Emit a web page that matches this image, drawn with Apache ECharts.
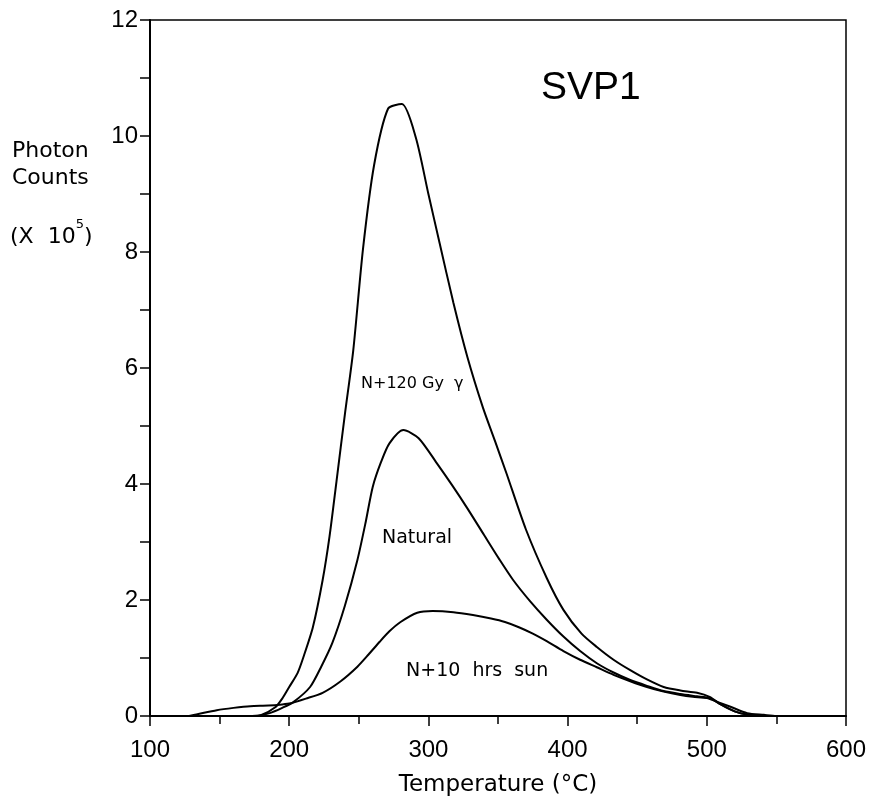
<!DOCTYPE html>
<html>
<head>
<meta charset="utf-8">
<script src="https://cdn.jsdelivr.net/npm/echarts@6/dist/echarts.min.js"></script>
<style>
  html, body { margin: 0; padding: 0; background: #fff; }
  #chart { width: 875px; height: 802px; }
</style>
</head>
<body>
<div id="chart"></div>
<script>
// Glow curves for sample SVP1 (photon counts x 10^5 vs temperature in °C)
const gammaTemp = [100,170,180,190,195,200,206,210,217,224,229,234,240,246,253,261,271,281,291,300,308,318,328,339,348,356,370,385,397,410,421,433,445,457,469,481,493,502,510,520,530,540,600];
const gammaCounts = [0,0,0.02,0.15,0.3,0.5,0.74,1.0,1.53,2.34,3.1,4.05,5.2,6.3,8.05,9.5,10.47,10.55,9.97,9.0,8.16,7.12,6.19,5.33,4.73,4.19,3.22,2.38,1.83,1.42,1.19,0.97,0.79,0.63,0.5,0.44,0.4,0.33,0.2,0.08,0.02,0,0];

const naturalTemp = [100,175,186,195,203,215,223,231,240,249,255,260,266,272,282,293,306,317,328,340,351,361,373,385,397,409,421,433,445,457,469,481,493,502,510,520,530,540,600];
const naturalCounts = [0,0,0.05,0.14,0.24,0.5,0.85,1.26,1.9,2.69,3.35,3.95,4.38,4.7,4.93,4.79,4.36,3.98,3.58,3.12,2.7,2.34,1.98,1.66,1.37,1.12,0.91,0.75,0.62,0.52,0.43,0.38,0.34,0.31,0.2,0.08,0.02,0,0];

const sunTemp = [100,128,134,148,160,172,185,195,201,212,224,237,249,257,265,272,280,292,303,318,332,345,355,365,375,385,397,409,421,433,445,457,469,481,490,500,508,517,529,541,550,600];
const sunCounts = [0,0,0.03,0.1,0.14,0.17,0.18,0.2,0.22,0.3,0.4,0.6,0.85,1.06,1.28,1.46,1.62,1.78,1.81,1.79,1.74,1.68,1.62,1.53,1.42,1.29,1.12,0.97,0.84,0.71,0.6,0.5,0.42,0.36,0.33,0.31,0.24,0.16,0.05,0.02,0,0];

const xTicks = { min: 100, max: 600, step: 100 };
const yTicks = { min: 0, max: 12, step: 2 };

const pairs = (xs, ys) => xs.map((x, i) => [x, ys[i]]);
const FONT = 'Liberation Sans';
const WIDE = 'DejaVu Sans';

const chart = echarts.init(document.getElementById('chart'), null, { renderer: 'canvas' });

const lineSeries = (name, xs, ys) => ({
  name: name,
  type: 'line',
  data: pairs(xs, ys),
  showSymbol: false,
  smooth: 0.25,
  lineStyle: { color: '#000', width: 2 },
  z: 3
});

chart.setOption({
  animation: false,
  backgroundColor: '#fff',
  grid: {
    left: 150, right: 29, top: 20, bottom: 86,
    show: true, borderColor: '#000', borderWidth: 1.5, backgroundColor: 'transparent'
  },
  xAxis: {
    type: 'value',
    min: xTicks.min, max: xTicks.max, interval: xTicks.step,
    axisLine: { show: true, onZero: false, lineStyle: { color: '#000', width: 2 } },
    axisTick: { show: true, inside: false, length: 10, lineStyle: { color: '#000', width: 1.5 } },
    minorTick: { show: true, splitNumber: 2, length: 8, lineStyle: { color: '#000', width: 1.5 } },
    splitLine: { show: false },
    axisLabel: { color: '#000', fontFamily: FONT, fontSize: 24, margin: 22 },
    name: 'Temperature (°C)',
    nameLocation: 'middle',
    nameGap: 58,
    nameTextStyle: { color: '#000', fontFamily: WIDE, fontSize: 23 }
  },
  yAxis: {
    type: 'value',
    min: yTicks.min, max: yTicks.max, interval: yTicks.step,
    axisLine: { show: true, lineStyle: { color: '#000', width: 2 } },
    axisTick: { show: true, inside: false, length: 10, lineStyle: { color: '#000', width: 1.5 } },
    minorTick: { show: true, splitNumber: 2, length: 10, lineStyle: { color: '#000', width: 1.5 } },
    splitLine: { show: false },
    axisLabel: { color: '#000', fontFamily: FONT, fontSize: 24, margin: 12 }
  },
  graphic: [
    { type: 'text', left: 12, top: 140, style: { text: 'Photon', font: '22px "' + WIDE + '"', fill: '#000' } },
    { type: 'text', left: 12, top: 167, style: { text: 'Counts', font: '22px "' + WIDE + '"', fill: '#000' } },
    {
      type: 'text', left: 10, top: 218,
      style: {
        text: '{a|(X  10}{s|5}{a|)}',
        rich: {
          a: { fontFamily: WIDE, fontSize: 22, lineHeight: 30, fill: '#000', verticalAlign: 'bottom' },
          s: { fontFamily: WIDE, fontSize: 13, lineHeight: 14, fill: '#000', verticalAlign: 'top' }
        }
      }
    },
    { type: 'text', left: 541, top: 69, style: { text: 'SVP1', font: '39px "' + FONT + '"', fill: '#000' } },
    { type: 'text', left: 361, top: 376, style: { text: 'N+120 Gy  \u03b3', font: '16px "' + WIDE + '"', fill: '#000' } },
    { type: 'text', left: 382, top: 529, style: { text: 'Natural', font: '19px "' + WIDE + '"', fill: '#000' } },
    { type: 'text', left: 406, top: 662, style: { text: 'N+10  hrs  sun', font: '19px "' + WIDE + '"', fill: '#000' } }
  ],
  series: [
    lineSeries('N+120 Gy', gammaTemp, gammaCounts),
    lineSeries('Natural', naturalTemp, naturalCounts),
    lineSeries('N+10 hrs sun', sunTemp, sunCounts)
  ]
});
</script>
</body>
</html>
